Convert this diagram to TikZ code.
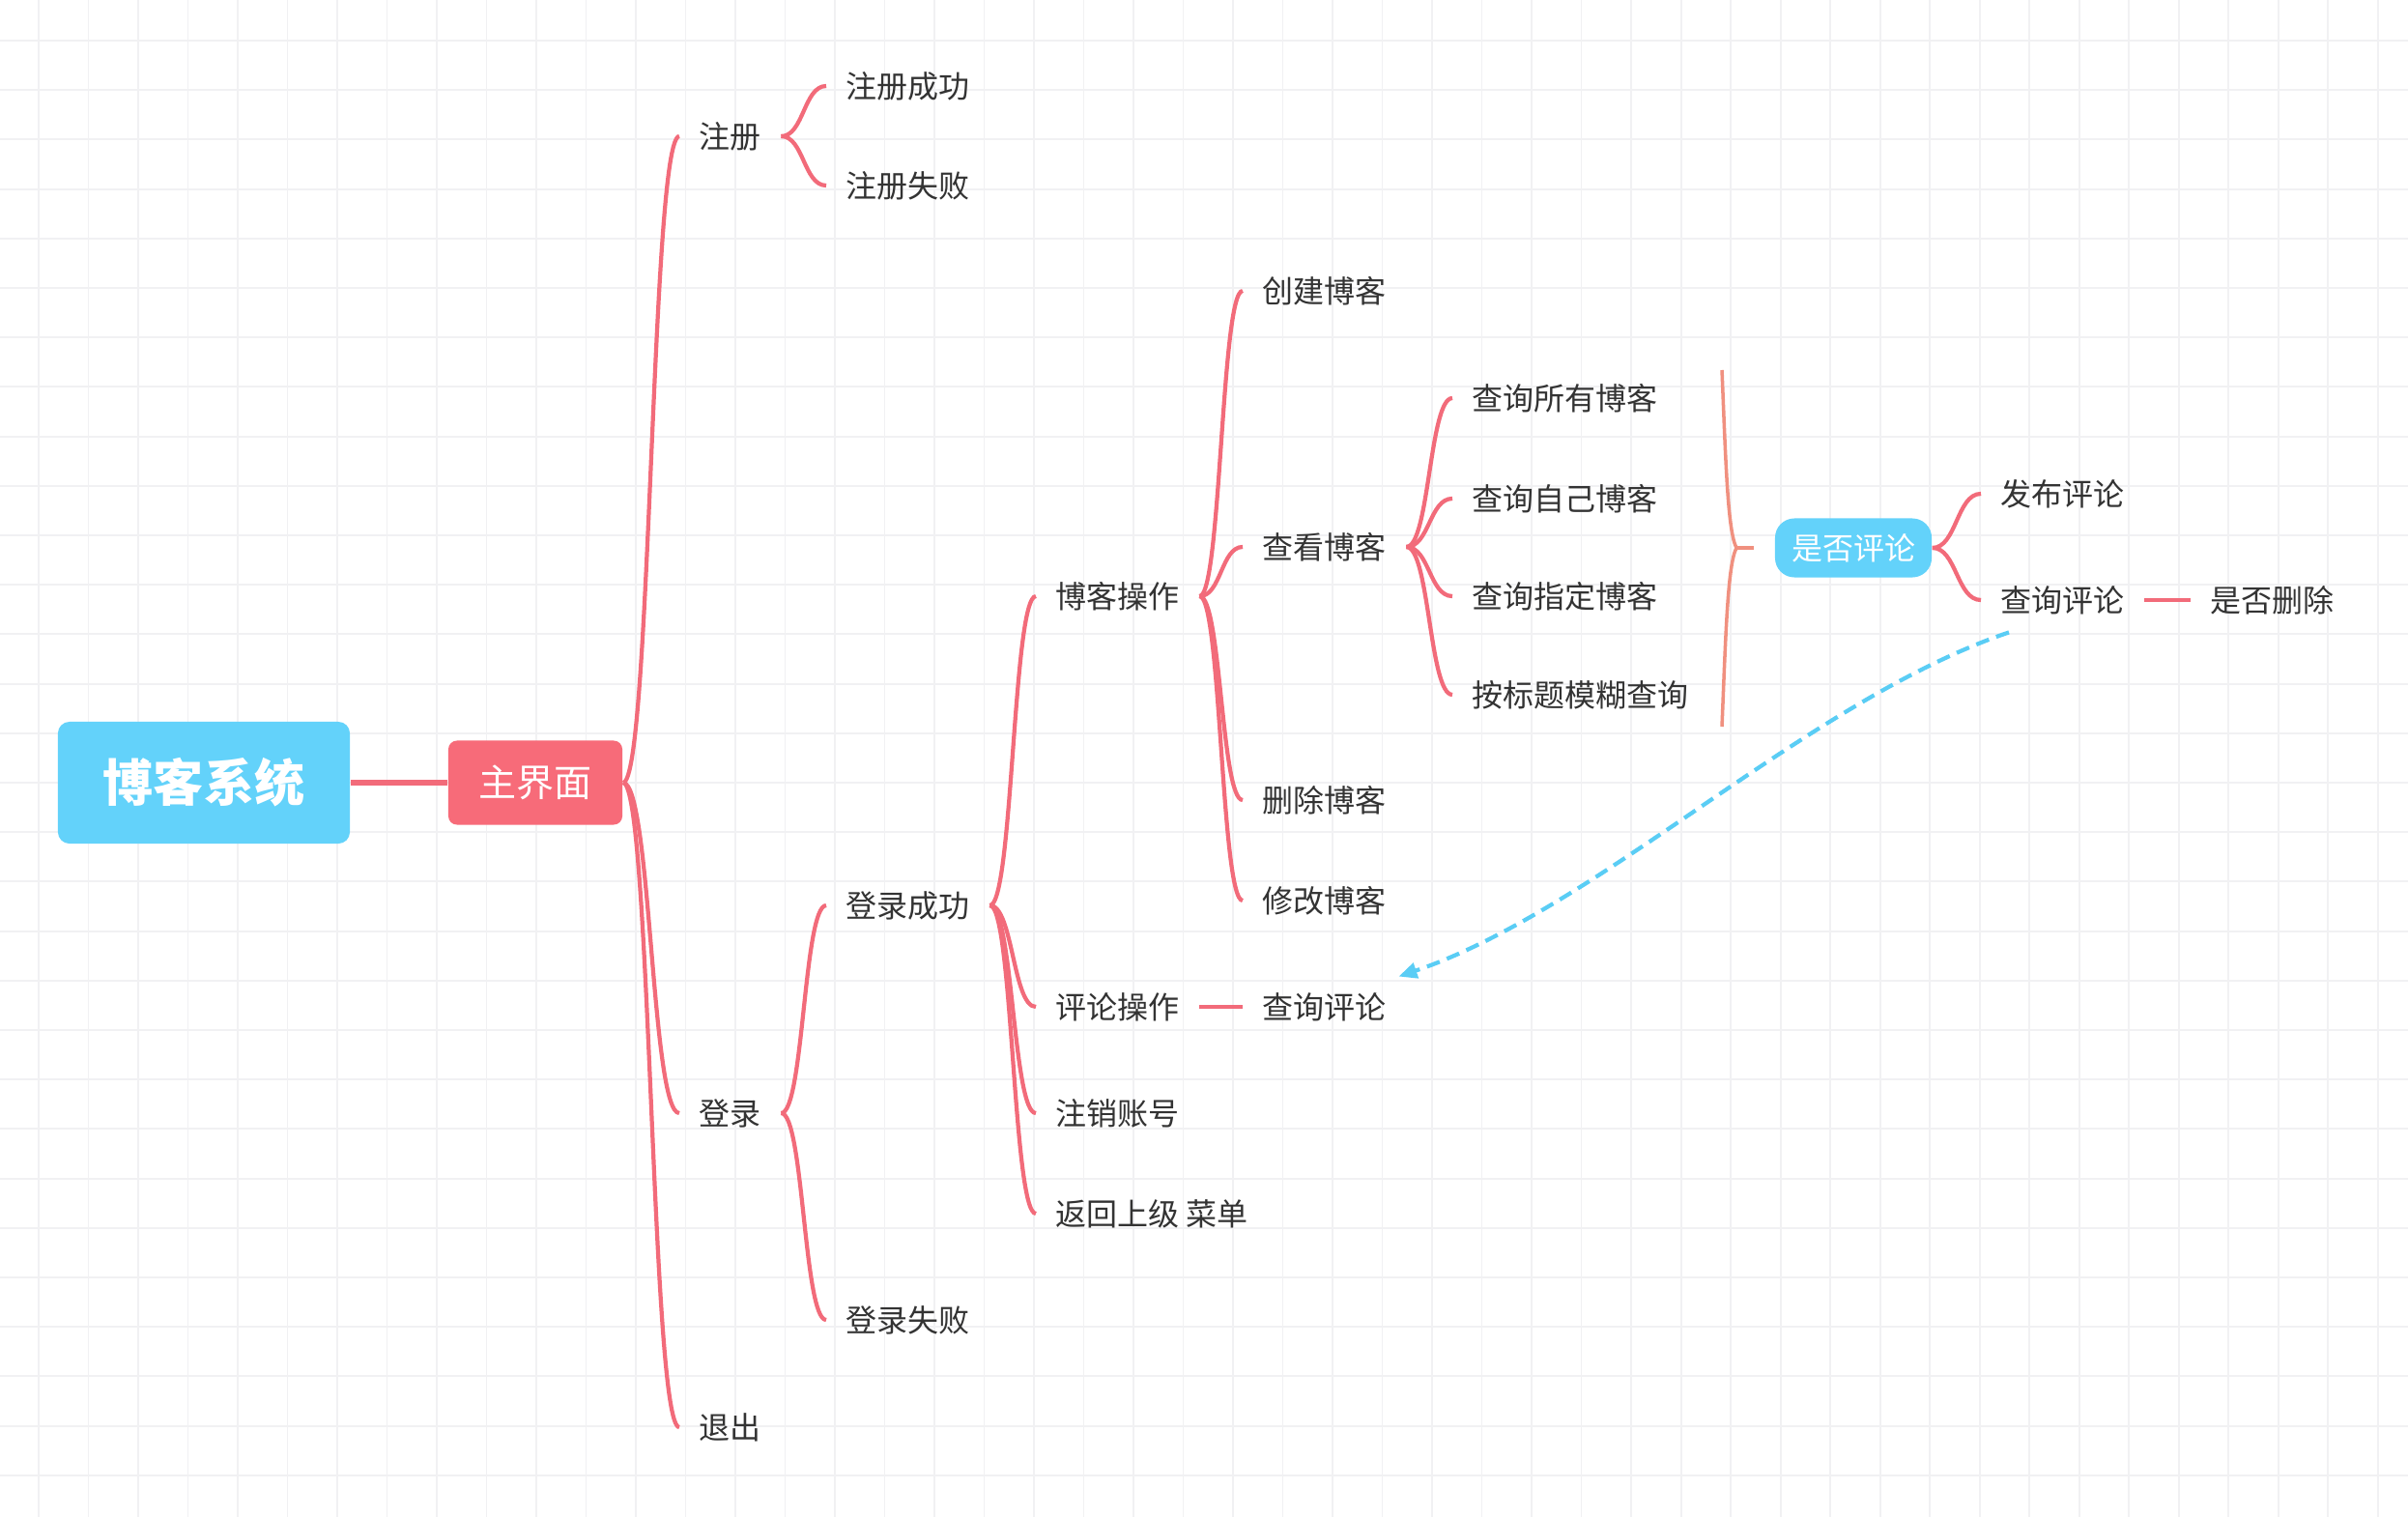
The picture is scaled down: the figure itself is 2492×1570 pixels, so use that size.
\documentclass[tikz,border=0pt]{standalone}
\usepackage{fontspec}
\newfontfamily\cjk{Noto Sans CJK SC}
\usetikzlibrary{arrows.meta,calc}

\definecolor{rootblue}{HTML}{63D2FA}
\definecolor{mainred}{HTML}{F76B79}
\definecolor{linkred}{HTML}{F26B7A}
\definecolor{bracecol}{HTML}{F0907F}
\definecolor{gridgray}{HTML}{F1F1F3}
\definecolor{txtgray}{HTML}{333333}
\definecolor{dashblue}{HTML}{5ACDF5}

\tikzset{
  topic/.style={anchor=west, inner xsep=0.2cm, inner ysep=0.04cm, text=txtgray,
    font=\cjk\fontsize{9.1}{11}\selectfont},
  rootbox/.style={fill=rootblue, rounded corners=0.12cm, minimum width=3.02cm,
    minimum height=1.26cm, text=white, font=\cjk\bfseries\fontsize{14.8}{18}\selectfont},
  mainbox/.style={fill=mainred, rounded corners=0.09cm, minimum width=1.8cm,
    minimum height=0.87cm, text=white, font=\cjk\fontsize{11.1}{14}\selectfont},
  askbox/.style={fill=rootblue, rounded corners=0.2cm, minimum width=1.62cm,
    minimum height=0.61cm, text=white, font=\cjk\fontsize{9.1}{11}\selectfont},
  branch/.style={draw=linkred, line width=1.2pt,
    to path={.. controls ($(\tikztostart)!.5!(\tikztostart-|\tikztotarget)$)
      and ($(\tikztotarget)!.5!(\tikztotarget-|\tikztostart)$) .. (\tikztotarget)}},
  flat/.style={draw=linkred, line width=1.2pt},
  trunk/.style={draw=linkred, line width=1.8pt},
  gridline/.style={draw=gridgray, line width=0.55pt},
  bracelink/.style={draw=bracecol, line width=1pt},
  backlink/.style={draw=dashblue, line width=1.2pt, dash pattern=on 0.14cm off 0.08cm,
    -{Triangle[length=0.19cm,width=0.16cm]}}
}

\begin{document}
\begin{tikzpicture}[x=0.01cm,y=-0.01cm]
\useasboundingbox (0,0) rectangle (2492,1570);
\fill[white] (0,0) rectangle (2492,1570);
% grid paper
\foreach \gx in {40,91.5,...,2492} \draw[gridline] (\gx,0) -- (\gx,1570);
\foreach \gy in {42,93.2,...,1570} \draw[gridline] (0,\gy) -- (2492,\gy);

% centre
\node[rootbox] (root) at (211,810) {博客系统};
\node[mainbox] (zjm) at (554,810) {主界面};

% first level
\node[topic] (zc) at (703,141) {注册};
\node[topic] (dl) at (703,1152) {登录};
\node[topic] (tc) at (703,1477) {退出};

\node[topic] (zccg) at (855,89) {注册成功};
\node[topic] (zcsb) at (855,192) {注册失败};
\node[topic] (dlcg) at (855,937) {登录成功};
\node[topic] (dlsb) at (855,1366) {登录失败};

\node[topic] (bkcz) at (1072,617) {博客操作};
\node[topic] (plcz) at (1072,1042) {评论操作};
\node[topic] (zxzh) at (1072,1152) {注销账号};
\node[topic] (fhcd) at (1072,1256) {返回上级 菜单};

\node[topic] (cjbk) at (1286,301) {创建博客};
\node[topic] (ckbk) at (1286,566) {查看博客};
\node[topic] (scbk) at (1286,828) {删除博客};
\node[topic] (xgbk) at (1286,932) {修改博客};
\node[topic] (cxpla) at (1286,1042) {查询评论};

\node[topic] (cxsy) at (1503,412) {查询所有博客};
\node[topic] (cxzj) at (1503,516) {查询自己博客};
\node[topic] (cxzd) at (1503,617) {查询指定博客};
\node[topic] (bbt) at (1503,719) {按标题模糊查询};

\node[askbox] (sfpl) at (1918,567) {是否评论};
\node[topic] (fbpl) at (2050,511) {发布评论};
\node[topic] (cxplb) at (2050,621) {查询评论};
\node[topic] (sfsc) at (2267,621) {是否删除};

% connectors
\draw[trunk] (root) -- (zjm);
\foreach \kid in {zc,dl,tc} \draw[branch] (zjm.east) to (\kid.west);
\foreach \kid in {zccg,zcsb} \draw[branch] (zc.east) to (\kid.west);
\foreach \kid in {dlcg,dlsb} \draw[branch] (dl.east) to (\kid.west);
\foreach \kid in {bkcz,plcz,zxzh,fhcd} \draw[branch] (dlcg.east) to (\kid.west);
\foreach \kid in {cjbk,ckbk,scbk,xgbk} \draw[branch] (bkcz.east) to (\kid.west);
\foreach \kid in {cxsy,cxzj,cxzd,bbt} \draw[branch] (ckbk.east) to (\kid.west);
\foreach \kid in {fbpl,cxplb} \draw[branch] (sfpl.east) to (\kid.west);
\draw[flat] (plcz) -- (cxpla);
\draw[flat] (cxplb) -- (sfsc);

% summary brace
\coordinate (bztop) at (1782,383);
\coordinate (bztip) at (1797,567);
\coordinate (bzbot) at (1782,752);
\draw[bracelink] (bztop) .. controls (1786,480) and (1788,550) .. (bztip)
  .. controls (1788,584) and (1786,654) .. (bzbot);
\draw[bracecol, line width=1.4pt] (bztip) -- ([xshift=-0.21cm]sfpl.west);

% back reference
\draw[backlink] ([shift={(29,14)}]cxplb.south west) .. controls (1870,725) and (1655,940)
  .. ([shift={(-8,-12)}]cxpla.north east);
\end{tikzpicture}
\end{document}
